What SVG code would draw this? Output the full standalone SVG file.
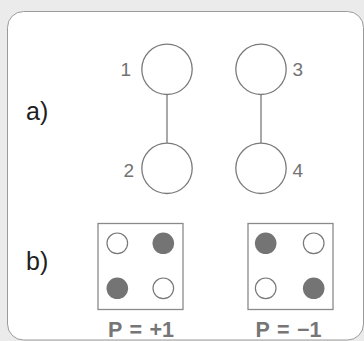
<svg xmlns="http://www.w3.org/2000/svg" width="364" height="341" viewBox="0 0 364 341">
<style>
.node{fill:#fff;stroke:#7a7a7a;stroke-width:1.3}
.lbl{font-family:"Liberation Sans",Arial,sans-serif;font-size:19px;fill:#727272}
.part{font-family:"Liberation Sans",Arial,sans-serif;font-size:25px;fill:#1e1e1e}
.box{fill:#fff;stroke:#8a8a8a;stroke-width:1.3}
.open{fill:#fff;stroke:#777;stroke-width:1.2}
.full{fill:#747474}
.p{font-family:"Liberation Sans",Arial,sans-serif;font-size:21.5px;font-weight:bold;fill:#767676;text-anchor:middle;word-spacing:1.5px}
.conn{stroke:#7a7a7a;stroke-width:1.3;fill:none}
</style>
<rect x="0" y="0" width="364" height="341" fill="#ebebeb"/>
<rect x="7.5" y="11.5" width="356" height="328.5" rx="16" ry="16" fill="#fff" stroke="#9a9a9a" stroke-width="1"/>
<text class="part" x="26" y="119.5">a)</text>
<text class="part" x="26" y="269.5">b)</text>
<g id="connectors">
<line class="conn" x1="167" y1="94.5" x2="167" y2="143"/>
<line class="conn" x1="261" y1="94.5" x2="261" y2="143"/>
</g>
<g id="n1"><circle class="node" cx="167" cy="69.3" r="25.2"/><text class="lbl" x="131" y="75.5" text-anchor="end">1</text></g>
<g id="n2"><circle class="node" cx="167" cy="168.3" r="25.2"/><text class="lbl" x="134" y="177" text-anchor="end">2</text></g>
<g id="n3"><circle class="node" cx="261" cy="69.3" r="25.2"/><text class="lbl" x="292.5" y="75.5">3</text></g>
<g id="n4"><circle class="node" cx="261" cy="168.3" r="25.2"/><text class="lbl" x="292.5" y="177">4</text></g>
<g id="boxPlus">
<rect class="box" x="98" y="223.5" width="85" height="86"/>
<circle class="open" cx="117.3" cy="243.3" r="10.3"/>
<circle class="full" cx="163.3" cy="243.3" r="10.8"/>
<circle class="full" cx="117.3" cy="288.3" r="10.8"/>
<circle class="open" cx="163.3" cy="288.3" r="10.3"/>
<text class="p" x="141" y="337">P = +1</text>
</g>
<g id="boxMinus">
<rect class="box" x="248" y="223.5" width="85" height="86"/>
<circle class="full" cx="265.7" cy="243.3" r="10.8"/>
<circle class="open" cx="313.7" cy="243.3" r="10.3"/>
<circle class="open" cx="265.7" cy="288.3" r="10.3"/>
<circle class="full" cx="313.7" cy="288.3" r="10.8"/>
<text class="p" x="288.5" y="337">P = −1</text>
</g>
</svg>
